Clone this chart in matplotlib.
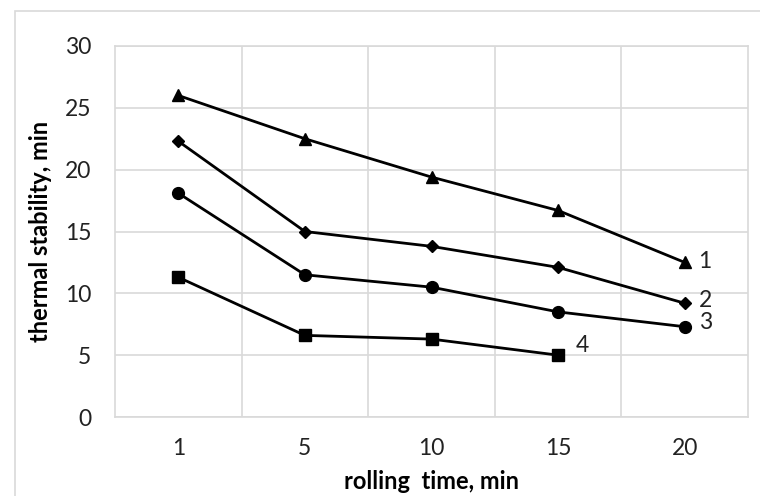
import matplotlib.pyplot as plt
from matplotlib.patches import Rectangle

plt.rcParams['font.family'] = ['Lato', 'DejaVu Sans']

rolling_time = ['1', '5', '10', '15', '20']
curve_1 = [26.0, 22.5, 19.4, 16.7, 12.5]
curve_2 = [22.3, 15.0, 13.8, 12.1, 9.2]
curve_3 = [18.1, 11.5, 10.5, 8.5, 7.3]
curve_4 = [11.3, 6.6, 6.3, 5.0]
curve_names = ['1', '2', '3', '4']

fig = plt.figure(figsize=(7.6, 4.96), dpi=100)
ax = fig.add_axes([115 / 760, 1 - 417 / 496, (748 - 115) / 760, (417 - 46) / 496])

# outer chart-area frame (left and top edges visible)
fig.patches.append(Rectangle((15 / 760, -0.1), 1.2, 1 - 11 / 496 + 0.1,
                             transform=fig.transFigure, fill=False,
                             edgecolor='#d9d9d9', linewidth=1.2))

x = list(range(len(rolling_time)))
ax.plot(x, curve_1, color='black', lw=2, marker='^', ms=8.5, zorder=3)
ax.plot(x, curve_2, color='black', lw=2, marker='D', ms=6.2, zorder=3)
ax.plot(x, curve_3, color='black', lw=2, marker='o', ms=8.5, zorder=3)
ax.plot(x[:len(curve_4)], curve_4, color='black', lw=2, marker='s', ms=8, zorder=3)

# curve numbers next to the last points
ends = [(x[-1], curve_1[-1]), (x[-1], curve_2[-1]), (x[-1], curve_3[-1]),
        (x[len(curve_4) - 1], curve_4[-1])]
offsets = [(10, 1), (10, 2), (10, 3), (13, 7)]
for name, (px, py), off in zip(curve_names, ends, offsets):
    ax.annotate(name, (px, py), xytext=off, textcoords='offset points',
                fontsize=16.5, va='center', ha='left', color='#222222')

ax.set_xlim(-0.5, len(rolling_time) - 0.5)
ax.set_ylim(0, 30)
ax.set_yticks(range(0, 31, 5))
ax.set_xticks(x)
ax.set_xticklabels(rolling_time)
ax.set_xticks([i + 0.5 for i in x[:-1]], minor=True)

ax.grid(True, axis='y', color='#d9d9d9', lw=1.2)
ax.grid(True, axis='x', which='minor', color='#d9d9d9', lw=1.2)
ax.set_axisbelow(True)
for s in ax.spines.values():
    s.set_color('#d9d9d9')
    s.set_linewidth(1.2)
ax.tick_params(which='both', length=0, labelsize=16.5, colors='#222222')
ax.tick_params(axis='y', pad=17)
ax.tick_params(axis='x', pad=15)

ax.set_xlabel('rolling  time, min', fontsize=17, fontweight='bold', labelpad=8)
ax.set_ylabel('thermal stability, min', fontsize=17, fontweight='bold', labelpad=9)

fig.savefig('out.png', dpi=100)
